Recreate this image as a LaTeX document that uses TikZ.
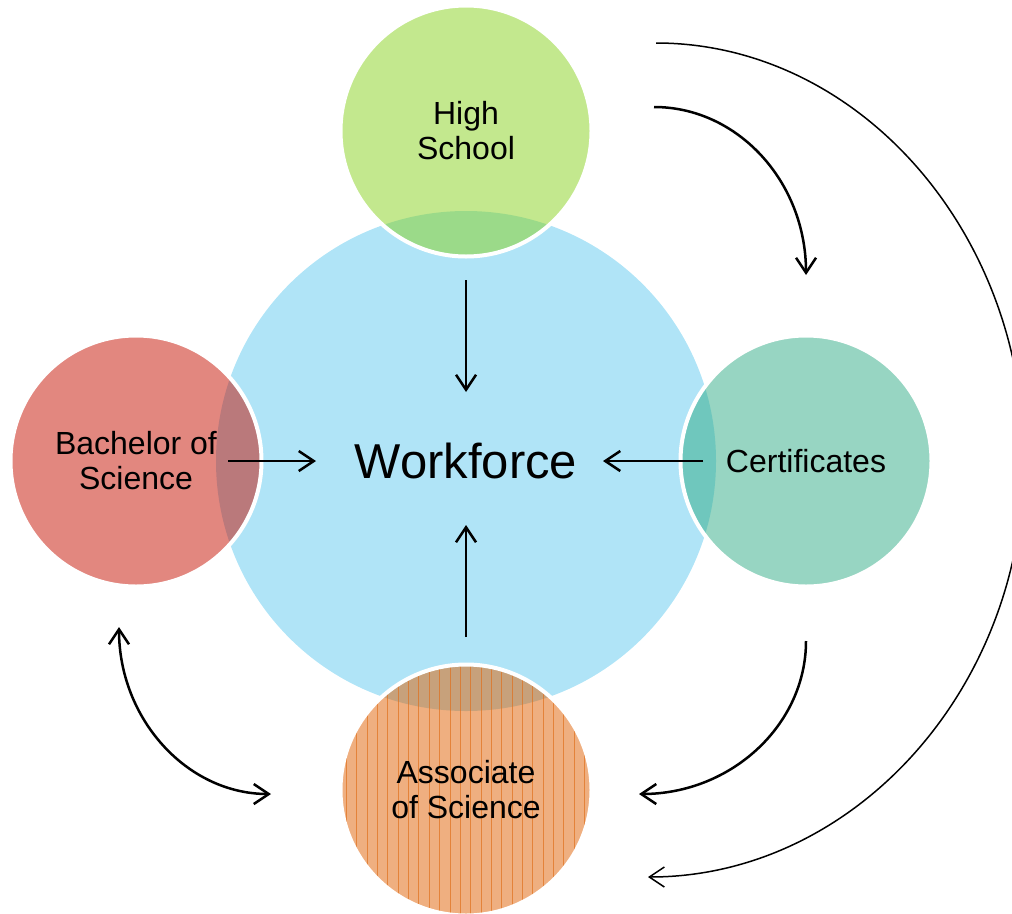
\documentclass[tikz,border=0pt]{standalone}
\usepackage{fontspec}
\setmainfont{Liberation Sans}
\usetikzlibrary{arrows.meta,positioning}

\definecolor{wfblue}{HTML}{B0E4F7}
\definecolor{hsgreen}{RGB}{135,209,29}
\definecolor{certteal}{RGB}{47,171,133}
\definecolor{bsred}{RGB}{197,15,0}
\definecolor{asorange}{RGB}{223,95,1}
\definecolor{asstripe}{HTML}{E0701C}

\tikzset{
  barb/.tip={Straight Barb[length=15pt,width=20pt]},
  bubble/.style={circle, minimum size=251pt, inner sep=0pt, draw=white, line width=4pt,
    fill opacity=0.5, draw opacity=1, text opacity=1, align=center,
    font=\fontsize{32}{35}\selectfont},
  arr/.style={-barb, line width=2.5pt},
  dblarr/.style={barb-barb, line width=2.5pt},
  thinarr/.style={-barb, line width=1.5pt}
}

\begin{document}
\begin{tikzpicture}[x=1pt,y=-1pt]
      \useasboundingbox (0,0) rectangle (1012,913);
      % centre
      \node[circle, fill=wfblue, minimum size=500pt, inner sep=0pt,
        font=\fontsize{49}{55}\selectfont] (wf) at (466,461) {Workforce};
      % the four bubbles
      \node[bubble, fill=hsgreen] (hs) at (466,131) {High\\School};
      \node[bubble, fill=certteal] (cert) at (806,461) {Certificates};
      \node[bubble, fill=bsred] (bs) at (136,461) {Bachelor of\\Science};
      \node[bubble, fill=asorange, path picture={
          \foreach \sx in {-130,-119.65,...,135}
            \draw[asstripe, line width=0.7pt, draw opacity=0.7]
              ([xshift=\sx pt]path picture bounding box.north) --
              ([xshift=\sx pt]path picture bounding box.south);
        }] (assoc) at (466,790) {Associate\\of Science};
      % into the workforce
      \draw[arr, shorten <=149pt, shorten >=69pt] (hs.center) -- (wf.center);
      \draw[arr, shorten <=92pt, shorten >=150pt] (bs.center) -- (wf.center);
      \draw[arr, shorten <=103pt, shorten >=137pt] (cert.center) -- (wf.center);
      \draw[arr, shorten <=153pt, shorten >=64pt] (assoc.center) -- (wf.center);
      % between the bubbles
      \coordinate (hsA) at (654,107);
      \coordinate (certA) at (806,275);
      \coordinate (hsB) at (656,43);
      \coordinate (assocB) at (648,877);
      \coordinate (certC) at (806,641);
      \coordinate (assocC) at (639,794);
      \coordinate (bsD) at (119,627);
      \coordinate (assocD) at (271,794);
      \draw[arr] (hsA) .. controls (738,107) and (806,182) .. (certA);
      \draw[thinarr] (hsB) .. controls (857,43) and (1024,230) .. (1024,460)
        .. controls (1024,690) and (853,877) .. (assocB);
      \draw[arr] (certC) .. controls (806,725) and (731,794) .. (assocC);
      \draw[dblarr] (bsD) .. controls (119,719) and (187,794) .. (assocD);
    \end{tikzpicture}
\end{document}
